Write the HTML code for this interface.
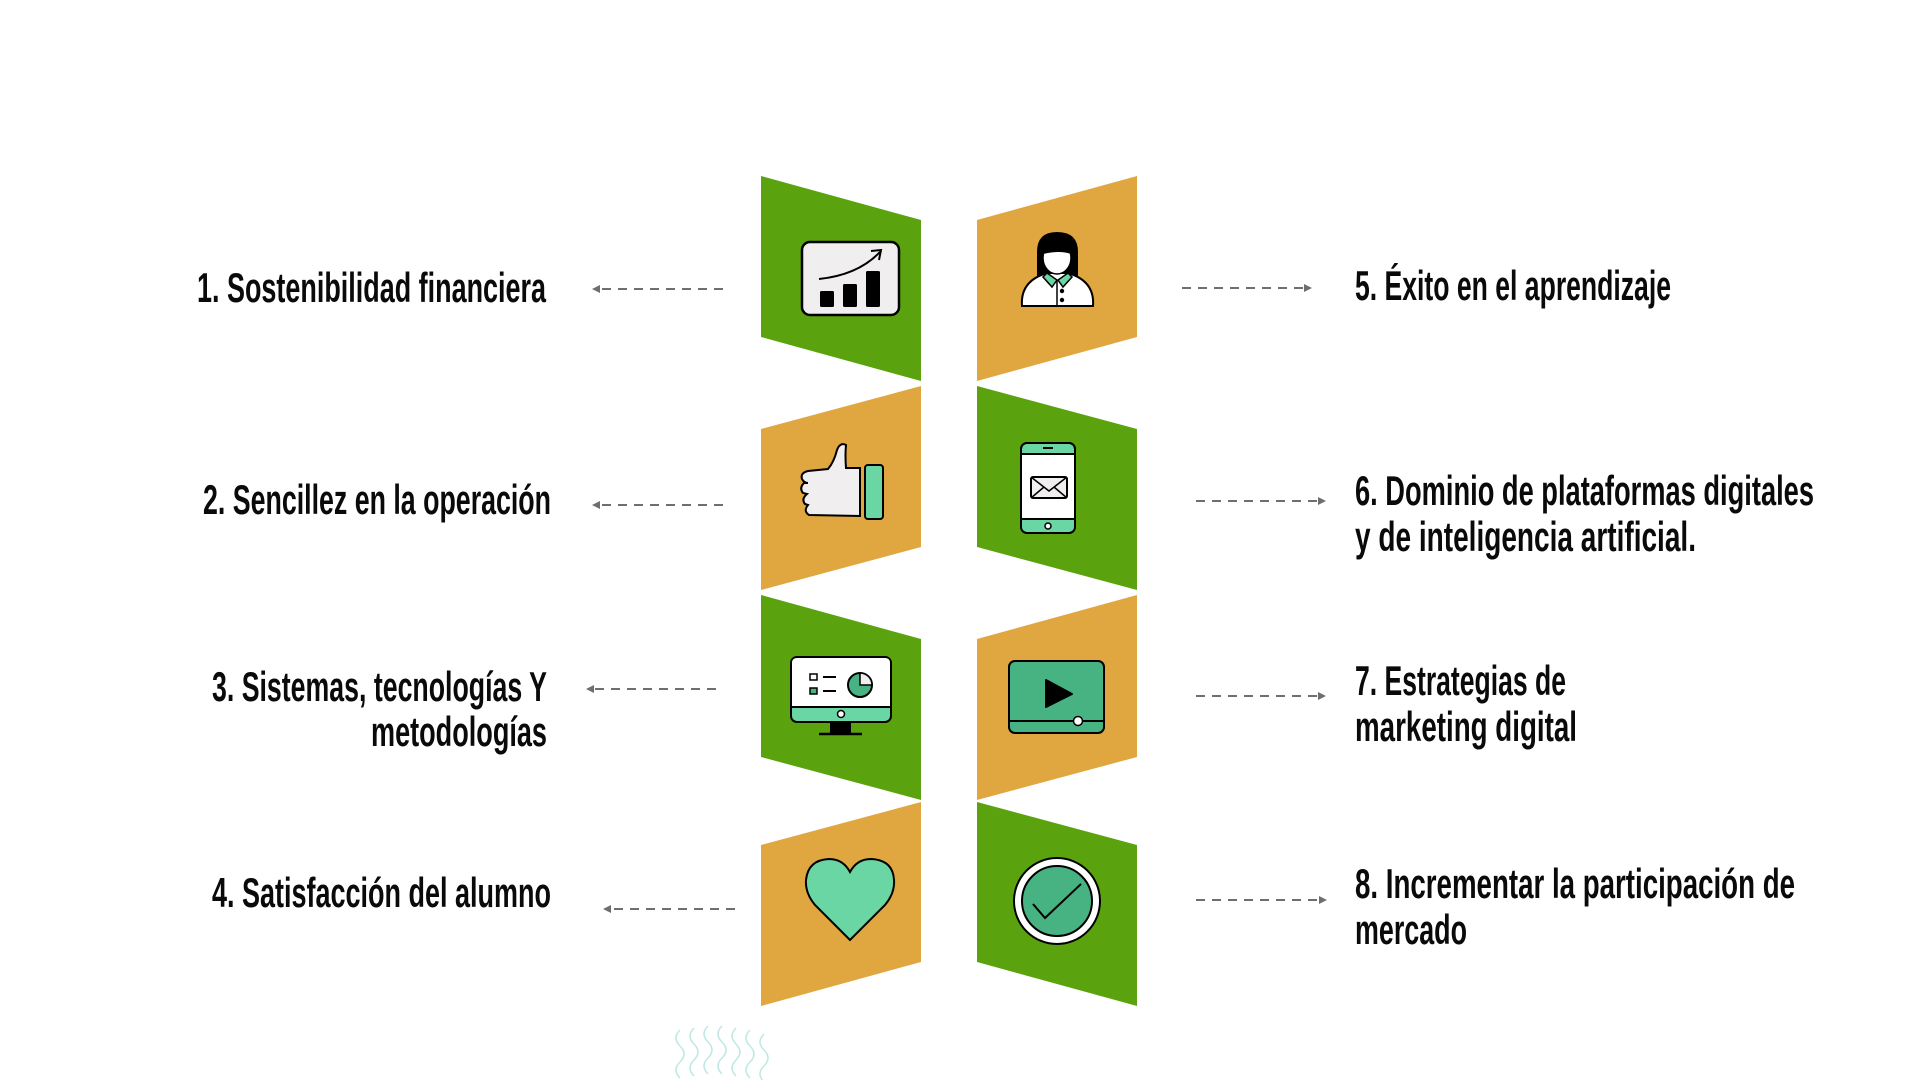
<!DOCTYPE html>
<html><head><meta charset="utf-8"><style>
html,body{margin:0;padding:0;background:#fff;}
svg{display:block;}
text{font-family:"Liberation Sans Narrow","Liberation Sans",sans-serif;font-weight:bold;font-size:42px;fill:#0a0a0a;}
</style></head><body>
<svg width="1920" height="1080" viewBox="0 0 1920 1080" xmlns="http://www.w3.org/2000/svg">
<rect width="1920" height="1080" fill="#fff"/>
<defs>
<marker id="ah" markerWidth="8" markerHeight="8" refX="4" refY="4" orient="auto" markerUnits="userSpaceOnUse">
<path d="M0,0 L8,4 L0,8 Z" fill="#6e6e72"/></marker>
</defs>
<polygon points="761,176 921,220 921,381 761,337" fill="#5aa30f"/>
<polygon points="977,220 1137,176 1137,337 977,381" fill="#e0a640"/>
<polygon points="761,429 921,386 921,547 761,590" fill="#e0a640"/>
<polygon points="977,386 1137,429 1137,590 977,547" fill="#5aa30f"/>
<polygon points="761,595 921,639 921,800 761,757" fill="#5aa30f"/>
<polygon points="977,639 1137,595 1137,757 977,800" fill="#e0a640"/>
<polygon points="761,845 921,802 921,962 761,1006" fill="#e0a640"/>
<polygon points="977,802 1137,845 1137,1006 977,962" fill="#5aa30f"/>

<rect x="802" y="242" width="97" height="73" rx="8" fill="#f0eeee" stroke="#000" stroke-width="2.5"/>
<rect x="820" y="291" width="14" height="16" rx="1.5" fill="#000"/>
<rect x="843" y="284" width="14" height="23" rx="1.5" fill="#000"/>
<rect x="866" y="271" width="14" height="36" rx="1.5" fill="#000"/>
<path d="M819,279 Q858,275 880,252" fill="none" stroke="#000" stroke-width="2"/>
<path d="M871,251 L881,250 L879,260" fill="none" stroke="#000" stroke-width="2"/>

<path d="M1037,280 L1037,252 Q1037,232 1057,232 Q1078,232 1078,252 L1078,280 Z" fill="#000"/>
<path d="M1022,306 Q1020,281 1047,273 L1068,273 Q1095,281 1093,306 Z" fill="#fff" stroke="#000" stroke-width="2"/>
<ellipse cx="1057" cy="258" rx="14" ry="16" fill="#fff" stroke="#000" stroke-width="1.5"/>
<path d="M1043,254 Q1046,242 1057,241 Q1068,242 1071,254 Q1060,250 1043,254 Z" fill="#000"/>
<path d="M1047,273 L1057,280 L1052,287 L1043,277 Z" fill="#6ad6a4" stroke="#000" stroke-width="1.5"/>
<path d="M1068,273 L1058,280 L1063,287 L1072,277 Z" fill="#6ad6a4" stroke="#000" stroke-width="1.5"/>
<line x1="1057" y1="280" x2="1057" y2="306" stroke="#000" stroke-width="1.5"/>
<circle cx="1062" cy="291" r="2.2" fill="#000"/><circle cx="1062" cy="300" r="2.2" fill="#000"/>

<path d="M860,468 L846,468 Q845,455 846,445 Q840,442 837,450 Q834,462 828,469 L808,471 Q800,473 802,479 Q804,483 808,483 L804,483 Q799,488 803,493 L807,494 Q801,499 805,504 L808,505 Q803,511 809,515 L860,516 Z" fill="#f0eeee" stroke="#000" stroke-width="2"/>
<rect x="865" y="465" width="18" height="54" rx="3" fill="#6ad6a4" stroke="#000" stroke-width="2"/>

<rect x="1021" y="443" width="54" height="90" rx="6" fill="#6ad6a4" stroke="#000" stroke-width="2"/>
<rect x="1021" y="454" width="54" height="65" fill="#fff" stroke="#000" stroke-width="2"/>
<line x1="1043" y1="448" x2="1053" y2="448" stroke="#000" stroke-width="2"/>
<circle cx="1048" cy="526" r="3" fill="#fff" stroke="#000" stroke-width="1.5"/>
<rect x="1031" y="477" width="36" height="21" rx="2" fill="#f0eeee" stroke="#000" stroke-width="2"/>
<path d="M1031,477 L1049,491 L1067,477 M1031,498 L1044,487 M1067,498 L1054,487" fill="none" stroke="#000" stroke-width="1.5"/>

<rect x="830" y="720" width="21" height="13" fill="#000"/>
<line x1="819" y1="734" x2="862" y2="734" stroke="#000" stroke-width="2.5"/>
<rect x="791" y="657" width="100" height="65" rx="6" fill="#6ad6a4" stroke="#000" stroke-width="2"/>
<path d="M797,658 L885,658 Q890,658 890,663 L890,706 L792,706 L792,663 Q792,658 797,658 Z" fill="#fff"/>
<line x1="792" y1="707" x2="890" y2="707" stroke="#000" stroke-width="2"/>
<circle cx="841" cy="714" r="3.5" fill="#fff" stroke="#000" stroke-width="1.5"/>
<rect x="810" y="674" width="7" height="6" fill="#fff" stroke="#000" stroke-width="1.5"/>
<rect x="810" y="688" width="7" height="6" fill="#48b382" stroke="#000" stroke-width="1.5"/>
<line x1="823" y1="677" x2="836" y2="677" stroke="#000" stroke-width="2"/>
<line x1="823" y1="691" x2="836" y2="691" stroke="#000" stroke-width="2"/>
<circle cx="860" cy="685" r="12" fill="#48b382" stroke="#000" stroke-width="2"/>
<path d="M860,685 L860,673 A12,12 0 0 1 872,685 Z" fill="#f0eeee" stroke="#000" stroke-width="1.5"/>

<rect x="1009" y="661" width="95" height="72" rx="6" fill="#48b382" stroke="#000" stroke-width="2"/>
<line x1="1010" y1="721" x2="1103" y2="721" stroke="#000" stroke-width="2"/>
<path d="M1046,680 L1072,694 L1046,707 Z" fill="#000" stroke="#000" stroke-width="2" stroke-linejoin="round"/>
<circle cx="1078" cy="721" r="4.5" fill="#fff" stroke="#000" stroke-width="1.5"/>

<path d="M850,940 L815,905 Q805,893 806,880 Q808,860 829,859 Q843,859 850,872 Q857,859 871,859 Q893,860 894,880 Q895,893 885,905 Z" fill="#6ad6a4" stroke="#000" stroke-width="2"/>

<circle cx="1057" cy="901" r="43" fill="#fff" stroke="#000" stroke-width="2"/>
<circle cx="1057" cy="901" r="35" fill="#48b382" stroke="#000" stroke-width="2"/>
<polyline points="1033,904 1045,918 1081,884" fill="none" stroke="#000" stroke-width="2"/>

<g stroke="#6e6e72" stroke-width="2" stroke-dasharray="9,7" fill="none">
<line x1="723" y1="289" x2="596" y2="289" marker-end="url(#ah)"/>
<line x1="723" y1="505" x2="596" y2="505" marker-end="url(#ah)"/>
<line x1="716" y1="689" x2="590" y2="689" marker-end="url(#ah)"/>
<line x1="735" y1="909" x2="607" y2="909" marker-end="url(#ah)"/>
<line x1="1182" y1="288" x2="1308" y2="288" marker-end="url(#ah)"/>
<line x1="1196" y1="501" x2="1322" y2="501" marker-end="url(#ah)"/>
<line x1="1196" y1="696" x2="1322" y2="696" marker-end="url(#ah)"/>
<line x1="1196" y1="900" x2="1323" y2="900" marker-end="url(#ah)"/>
</g>

<text x="197" y="302" textLength="349" lengthAdjust="spacingAndGlyphs">1. Sostenibilidad financiera</text>
<text x="203" y="514" textLength="348" lengthAdjust="spacingAndGlyphs">2. Sencillez en la operación</text>
<text x="212" y="701" textLength="335" lengthAdjust="spacingAndGlyphs">3. Sistemas, tecnologías Y</text>
<text x="371" y="746" textLength="176" lengthAdjust="spacingAndGlyphs">metodologías</text>
<text x="212" y="907" textLength="339" lengthAdjust="spacingAndGlyphs">4. Satisfacción del alumno</text>
<text x="1355" y="300" textLength="316" lengthAdjust="spacingAndGlyphs">5. Éxito en el aprendizaje</text>
<text x="1355" y="505" textLength="459" lengthAdjust="spacingAndGlyphs">6. Dominio de plataformas digitales</text>
<text x="1355" y="551" textLength="341" lengthAdjust="spacingAndGlyphs">y de inteligencia artificial.</text>
<text x="1355" y="695" textLength="211" lengthAdjust="spacingAndGlyphs">7. Estrategias de</text>
<text x="1355" y="741" textLength="222" lengthAdjust="spacingAndGlyphs">marketing digital</text>
<text x="1355" y="898" textLength="440" lengthAdjust="spacingAndGlyphs">8. Incrementar  la participación de</text>
<text x="1355" y="944" textLength="112" lengthAdjust="spacingAndGlyphs">mercado</text>

<g fill="none" stroke="#bfe8e2" stroke-width="1.5">
<path d="M680,1030 q-8,8 0,16 q8,8 0,16 q-8,8 0,16"/>
<path d="M694,1028 q-8,8 0,16 q8,8 0,16 q-8,8 0,16"/>
<path d="M708,1026 q-8,8 0,16 q8,8 0,16 q-8,8 0,16"/>
<path d="M722,1026 q-8,8 0,16 q8,8 0,16 q-8,8 0,16"/>
<path d="M736,1028 q-8,8 0,16 q8,8 0,16 q-8,8 0,16"/>
<path d="M750,1030 q-8,8 0,16 q8,8 0,16 q-8,8 0,16"/>
<path d="M764,1034 q-8,8 0,16 q8,8 0,16 q-8,8 0,16"/>
</g>
</svg>
</body></html>
